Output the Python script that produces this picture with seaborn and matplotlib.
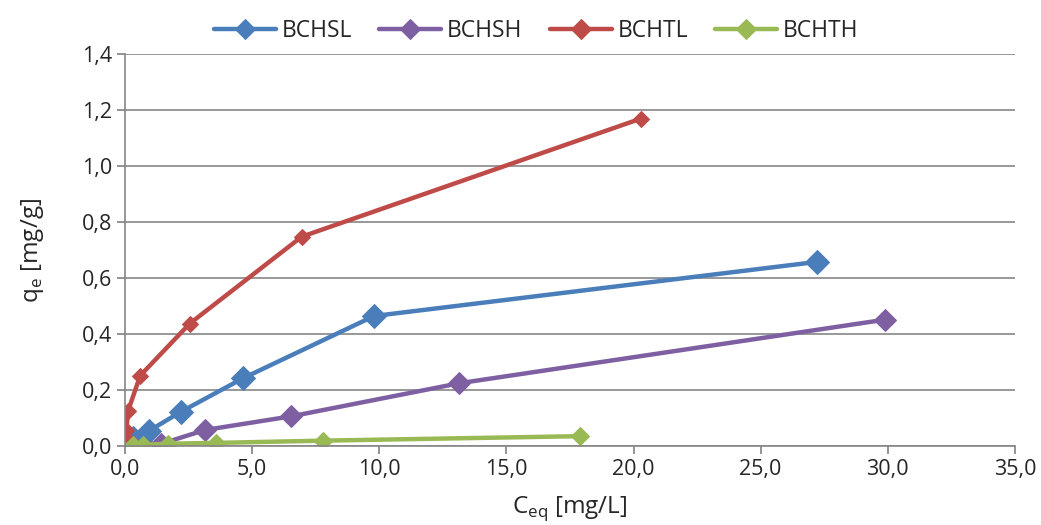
import matplotlib
matplotlib.use("Agg")
import matplotlib.pyplot as plt
import seaborn as sns
import pandas as pd
from matplotlib.ticker import FuncFormatter, MultipleLocator

series_names = ["BCHSL", "BCHSH", "BCHTL", "BCHTH"]

bchsl_x = [0.3, 0.95, 2.2, 4.65, 9.8, 27.2]
bchsl_y = [0.03, 0.055, 0.123, 0.243, 0.465, 0.658]

bchsh_x = [0.2, 1.4, 3.15, 6.55, 13.15, 29.9]
bchsh_y = [0.012, 0.008, 0.058, 0.107, 0.225, 0.452]

bchtl_x = [0.02, 0.06, 0.12, 0.6, 2.55, 6.95, 20.3]
bchtl_y = [0.03, 0.058, 0.125, 0.252, 0.438, 0.748, 1.17]

bchth_x = [0.3, 0.7, 1.7, 3.6, 7.8, 17.9]
bchth_y = [0.005, 0.005, 0.009, 0.012, 0.02, 0.036]

colors = ["#4A7EBB", "#7E60A2", "#BE4B48", "#98B954"]
msizes = [12, 11, 8, 9]

sns.set_theme(style="white")
plt.rcParams["font.family"] = ["Open Sans", "DejaVu Sans"]

fig = plt.figure(figsize=(10.41, 5.25), dpi=100)
ax = fig.add_axes([0.120, 0.150, 0.855, 0.747])

data = [(bchsl_x, bchsl_y), (bchsh_x, bchsh_y), (bchtl_x, bchtl_y), (bchth_x, bchth_y)]
for name, (xs, ys), c, ms in zip(series_names, data, colors, msizes):
    df = pd.DataFrame({"x": xs, "y": ys})
    sns.lineplot(data=df, x="x", y="y", ax=ax, color=c, marker="D", markersize=ms,
                 markeredgecolor=c, linewidth=3.2, label=name, sort=False)

ax.set_xlim(0, 35)
ax.set_ylim(0, 1.4)
ax.xaxis.set_major_locator(MultipleLocator(5))
ax.yaxis.set_major_locator(MultipleLocator(0.2))
ax.xaxis.set_major_formatter(FuncFormatter(lambda v, p: f"{v:.1f}".replace(".", ",")))
ax.yaxis.set_major_formatter(FuncFormatter(lambda v, p: f"{v:.1f}".replace(".", ",")))
ax.grid(axis="y", color="#868686", linewidth=1.2)
ax.grid(axis="x", visible=False)
for s in ["top", "right"]:
    ax.spines[s].set_visible(False)
for s in ["left", "bottom"]:
    ax.spines[s].set_color("#868686")
    ax.spines[s].set_linewidth(1.2)
ax.tick_params(axis="x", which="major", direction="out", length=6, color="#868686",
               labelsize=15.5, bottom=True, pad=3)
ax.tick_params(axis="y", which="major", direction="out", length=6, color="#868686",
               labelsize=15.5, left=True, pad=3)
ax.set_xlabel("C$_{\\mathregular{eq}}$ [mg/L]", fontsize=17.5, labelpad=10)
ax.set_ylabel("q$_{\\mathregular{e}}$ [mg/g]", fontsize=17.5, labelpad=26)

leg = ax.legend(loc="lower center", bbox_to_anchor=(0.462, 1.0), ncol=4, frameon=False,
                fontsize=16.5, handlelength=2.7, columnspacing=1.2, handletextpad=0.25,
                borderaxespad=0.1)
for h in leg.legend_handles:
    h.set_markersize(10)

fig.savefig("out.png", dpi=100)
